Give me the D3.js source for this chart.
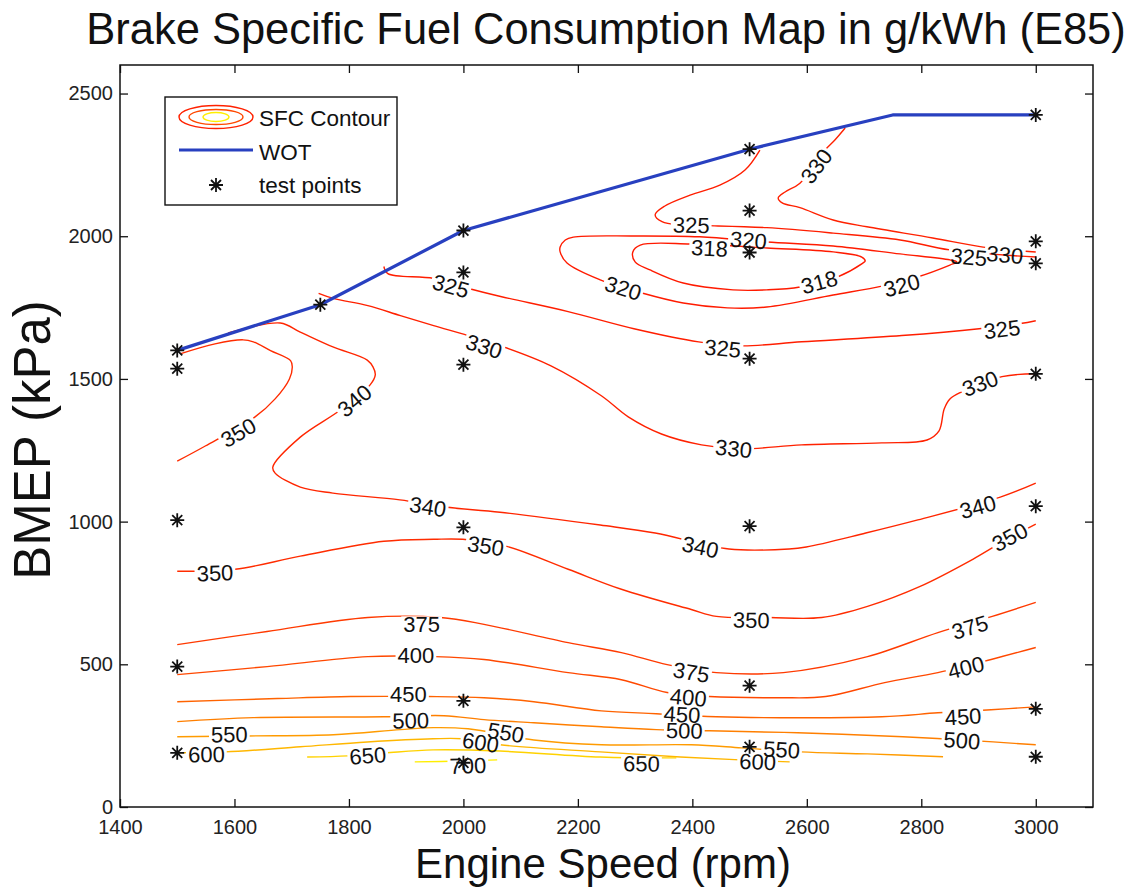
<!DOCTYPE html>
<html>
<head>
<meta charset="utf-8">
<script src="https://cdn.jsdelivr.net/npm/d3@7"></script>
<style>
  body { margin: 0; background: #fff; }
  svg text { font-family: "Liberation Sans", Arial, Helvetica, sans-serif; }
</style>
</head>
<body>
<svg id="chart" width="1128" height="890"></svg>
<script>
// ---- axis ticks ----
const speedTicks = [1400, 1600, 1800, 2000, 2200, 2400, 2600, 2800, 3000];
const bmepTicks = [0, 500, 1000, 1500, 2000, 2500];

// ---- wide-open-throttle curve (rpm, kPa) ----
const wotSpeed = [1500, 1750, 2000, 2500, 2750, 3000];
const wotBmep  = [1600, 1760, 2020, 2305, 2425, 2425];

// ---- measured test points (rpm, kPa) ----
const testSpeed = [1500, 1500, 1500, 1500, 1500, 1750, 2000, 2000, 2000, 2000, 2000, 2000,
                   2500, 2500, 2500, 2500, 2500, 2500, 2500, 3000, 3000, 3000, 3000, 3000, 3000, 3000];
const testBmep  = [1600, 1536, 1005, 492, 190, 1760, 2020, 1873, 1550, 980, 372, 155,
                   2305, 2090, 1943, 1571, 984, 425, 211, 2425, 1982, 1905, 1518, 1054, 344, 176];

// ---- SFC iso-lines, g/kWh (each a list of [rpm, kPa]) ----
const sfc318 = [[2296,1945],[2309,1969],[2396,1973],[2530,1959],[2646,1945],[2696,1927],[2702,1913],
  [2698,1906],[2653,1857],[2588,1822],[2530,1812],[2471,1812],[2384,1836],[2326,1882],[2300,1910]];
const sfc320 = [[2169,1962],[2178,1987],[2192,1997],[2296,2001],[2413,1998],[2530,1980],[2646,1966],
  [2763,1938],[2850,1917],[2862,1910],[2850,1899],[2793,1857],[2733,1826],[2646,1794],[2530,1752],
  [2461,1749],[2384,1766],[2312,1801],[2239,1847],[2181,1906],[2169,1945]];
const sfc325Upper = [[2518,2302],[2492,2232],[2448,2179],[2396,2144],[2352,2106],[2335,2075],[2347,2051],
  [2378,2039],[2427,2037],[2530,2030],[2646,2011],[2763,1987],[2850,1952],[3000,1927]];
const sfc325Lower = [[1861,1894],[1868,1869],[1948,1852],[2009,1817],[2065,1789],[2183,1736],[2298,1676],
  [2411,1630],[2486,1616],[2591,1630],[2766,1652],[2901,1676],[2973,1694],[3000,1704]];
const sfc330Upper = [[2667,2379],[2649,2337],[2632,2302],[2588,2186],[2562,2155],[2550,2134],[2557,2117],
  [2588,2100],[2646,2057],[2705,2033],[2820,1994],[2908,1962],[3000,1945]];
const sfc330Lower = [[1747,1800],[1773,1782],[1833,1757],[1890,1722],[1948,1687],[2008,1652],[2065,1616],
  [2153,1546],[2241,1441],[2288,1367],[2346,1307],[2416,1269],[2486,1255],[2591,1269],[2731,1276],
  [2810,1286],[2831,1318],[2840,1395],[2850,1430],[2871,1455],[2941,1508],[3000,1518]];
const sfc340 = [[1589,1661],[1680,1696],[1715,1664],[1772,1612],[1832,1566],[1842,1542],[1846,1514],
  [1837,1479],[1785,1391],[1715,1296],[1667,1191],[1671,1170],[1715,1121],[1772,1100],[1889,1076],
  [1968,1051],[2064,1033],[2239,988],[2335,960],[2464,904],[2569,904],[2599,911],[2703,960],
  [2794,1006],[2938,1086],[3000,1135]];
const sfc350Upper = [[1500,1212],[1549,1265],[1636,1367],[1671,1430],[1696,1500],[1701,1543],[1698,1564],
  [1663,1599],[1633,1630],[1615,1637],[1566,1623],[1505,1588]];
const sfc350Lower = [[1500,826],[1601,833],[1715,879],[1861,931],[1948,938],[1999,938],[2074,914],
  [2183,833],[2276,763],[2398,692],[2442,668],[2535,664],[2626,664],[2706,703],[2798,773],
  [2890,868],[2941,928],[3000,991]];
const sfc375 = [[1500,569],[1657,615],[1833,664],[1960,664],[2036,640],[2183,576],[2276,541],[2356,499],
  [2442,471],[2559,471],[2706,527],[2829,611],[2924,668],[3000,717]];
const sfc400 = [[1500,464],[1657,492],[1833,527],[1948,527],[2036,517],[2183,471],[2276,446],[2356,401],
  [2430,387],[2552,383],[2633,387],[2736,436],[2829,471],[2922,517],[3000,559]];
const sfc450 = [[1500,369],[1675,380],[1803,387],[1938,387],[2036,383],[2123,369],[2241,337],[2337,327],
  [2442,316],[2731,316],[2829,330],[2922,341],[3000,351]];
const sfc500 = [[1500,299],[1633,313],[1861,316],[1966,320],[2036,306],[2123,295],[2241,281],[2337,271],
  [2430,267],[2584,260],[2768,246],[2871,235],[3000,218]];
const sfc550 = [[1500,246],[1624,249],[1773,253],[1890,271],[1948,278],[2008,274],[2123,235],[2241,218],
  [2398,218],[2486,207],[2589,193],[2706,186],[2838,176]];
const sfc600 = [[1500,190],[1584,193],[1715,211],[1832,228],[1947,239],[1998,239],[2064,218],[2239,193],
  [2379,175],[2483,165],[2570,158]];
const sfc650 = [[1727,175],[1798,179],[1863,189],[1947,200],[2064,196],[2239,175],[2372,172]];
const sfc700 = [[1915,158],[1994,161],[2059,165]];

const contourLines = [
  { level: 318, points: sfc318, closed: true },
  { level: 320, points: sfc320, closed: true },
  { level: 325, points: sfc325Upper },
  { level: 325, points: sfc325Lower },
  { level: 330, points: sfc330Upper },
  { level: 330, points: sfc330Lower },
  { level: 340, points: sfc340 },
  { level: 350, points: sfc350Upper },
  { level: 350, points: sfc350Lower },
  { level: 375, points: sfc375 },
  { level: 400, points: sfc400 },
  { level: 450, points: sfc450 },
  { level: 500, points: sfc500 },
  { level: 550, points: sfc550 },
  { level: 600, points: sfc600 },
  { level: 650, points: sfc650 },
  { level: 700, points: sfc700 }
];

// inline labels: level, rpm, kPa
const labelLevel = [350, 340, 340, 340, 340, 350, 350, 350, 350, 375, 375, 375, 400, 400, 400,
  450, 450, 450, 500, 500, 500, 550, 550, 550, 600, 600, 600, 650, 650, 700,
  330, 330, 330, 325, 325, 325, 330, 330, 325, 325, 320, 320, 320, 318, 318];
const labelSpeed = [1607, 1810, 1938, 2414, 2899, 1566, 2039, 2503, 2955, 1927, 2398, 2885, 1917, 2393, 2878,
  1904, 2382, 2873, 1908, 2386, 2871, 1591, 2074, 2556, 1551, 2030, 2514, 1833, 2311, 2008,
  2036, 2472, 2903, 1978, 2453, 2941, 2617, 2946, 2398, 2883, 2498, 2279, 2766, 2430, 2622];
const labelBmep = [1311, 1423, 1051, 910, 1051, 819, 914, 654, 945, 640, 471, 629, 531, 383, 488,
  394, 323, 316, 302, 267, 232, 253, 260, 200, 183, 225, 158, 179, 151, 144,
  1613, 1255, 1483, 1824, 1606, 1673, 2245, 1934, 2038, 1926, 1985, 1817, 1827, 1957, 1838];

const levels = Array.from(new Set(contourLines.map(c => c.level))).sort((a, b) => a - b);

// ---- layout ----
const W = 1128, H = 890;
const plot = { left: 120, right: 1093, top: 65, bottom: 807 };
const x = d3.scaleLinear().domain([1400, 3100]).range([plot.left, plot.right]);
const y = d3.scaleLinear().domain([0, 2600]).range([plot.bottom, plot.top]);
// autumn colour map: red for the lowest consumption, yellow for the highest
const colour = d3.scaleLinear().domain([d3.min(levels), d3.max(levels)]).range(["#ff1a00", "#ffee00"]);

const svg = d3.select("#chart");
svg.append("rect").attr("width", W).attr("height", H).attr("fill", "#fff");

const defs = svg.append("defs");
const gLines = svg.append("g");
const gLabels = svg.append("g");
const gWot = svg.append("g");
const gPoints = svg.append("g");
const gAxes = svg.append("g");
const gLegend = svg.append("g");

// ---- iso-lines ----
const lineOpen = d3.line().x(d => x(d[0])).y(d => y(d[1])).curve(d3.curveCatmullRom.alpha(0.5));
const lineClosed = d3.line().x(d => x(d[0])).y(d => y(d[1])).curve(d3.curveCatmullRomClosed.alpha(0.5));

// direction of the nearest line segment at a label anchor
function labelAngle(level, px, py) {
  let best = Infinity, ang = 0;
  contourLines.filter(c => c.level === level).forEach(c => {
    const pts = c.points.map(p => [x(p[0]), y(p[1])]);
    if (c.closed) pts.push(pts[0]);
    for (let i = 0; i < pts.length - 1; i++) {
      const [x1, y1] = pts[i], [x2, y2] = pts[i + 1];
      const dx = x2 - x1, dy = y2 - y1;
      const len2 = dx * dx + dy * dy || 1;
      let t = ((px - x1) * dx + (py - y1) * dy) / len2;
      t = Math.max(0, Math.min(1, t));
      const d = (px - (x1 + t * dx)) ** 2 + (py - (y1 + t * dy)) ** 2;
      if (d < best) { best = d; ang = Math.atan2(dy, dx) * 180 / Math.PI; }
    }
  });
  if (ang > 90) ang -= 180;
  if (ang < -90) ang += 180;
  return ang;
}

const labels = labelLevel.map((lv, i) => {
  const px = x(labelSpeed[i]), py = y(labelBmep[i]);
  return { level: lv, px, py, angle: labelAngle(lv, px, py) };
});

const labelText = gLabels.selectAll("text").data(labels).join("text")
  .attr("x", d => d.px).attr("y", d => d.py)
  .attr("text-anchor", "middle").attr("dominant-baseline", "central")
  .attr("transform", d => `rotate(${d.angle},${d.px},${d.py})`)
  .attr("font-size", 22).attr("fill", "#111")
  .text(d => d.level);
labelText.each(function (d) { d.w = this.getComputedTextLength(); });

// a mask per level cuts the line where its own labels sit
levels.forEach(lv => {
  const m = defs.append("mask").attr("id", "gap-" + lv)
    .attr("maskUnits", "userSpaceOnUse").attr("x", 0).attr("y", 0).attr("width", W).attr("height", H);
  m.append("rect").attr("width", W).attr("height", H).attr("fill", "#fff");
  labels.filter(d => d.level === lv).forEach(d => {
    m.append("rect")
      .attr("x", d.px - d.w / 2 - 2).attr("y", d.py - 8).attr("width", d.w + 4).attr("height", 16)
      .attr("transform", `rotate(${d.angle},${d.px},${d.py})`).attr("fill", "#000");
  });
});

gLines.selectAll("path").data(contourLines).join("path")
  .attr("d", d => (d.closed ? lineClosed : lineOpen)(d.points))
  .attr("fill", "none")
  .attr("stroke", d => colour(d.level))
  .attr("stroke-width", 1.4)
  .attr("mask", d => `url(#gap-${d.level})`);

// ---- WOT ----
const wot = wotSpeed.map((s, i) => [s, wotBmep[i]]);
gWot.append("path")
  .attr("d", d3.line().x(d => x(d[0])).y(d => y(d[1]))(wot))
  .attr("fill", "none").attr("stroke", "#2840c0").attr("stroke-width", 3.2)
  .attr("stroke-linejoin", "round");

// ---- test points: '*' markers ----
const star = "M-7,0H7M0,-7V7M-5,-5L5,5M-5,5L5,-5";
gPoints.selectAll("path").data(testSpeed.map((s, i) => [s, testBmep[i]])).join("path")
  .attr("d", star)
  .attr("transform", d => `translate(${x(d[0])},${y(d[1])})`)
  .attr("fill", "none").attr("stroke", "#111").attr("stroke-width", 1.8);

// ---- axes ----
const tickFont = 20;
const ax = gAxes.append("g").attr("transform", `translate(0,${plot.bottom})`)
  .call(d3.axisBottom(x).tickValues(speedTicks).tickSizeInner(-8).tickSizeOuter(0).tickPadding(13).tickFormat(d3.format("d")));
const axTop = gAxes.append("g").attr("transform", `translate(0,${plot.top})`)
  .call(d3.axisTop(x).tickValues(speedTicks).tickSizeInner(-8).tickSizeOuter(0).tickFormat(""));
const ay = gAxes.append("g").attr("transform", `translate(${plot.left},0)`)
  .call(d3.axisLeft(y).tickValues(bmepTicks).tickSizeInner(-8).tickSizeOuter(0).tickPadding(7).tickFormat(d3.format("d")));
const ayRight = gAxes.append("g").attr("transform", `translate(${plot.right},0)`)
  .call(d3.axisRight(y).tickValues(bmepTicks).tickSizeInner(-8).tickSizeOuter(0).tickFormat(""));
[ax, axTop, ay, ayRight].forEach(g => {
  g.select(".domain").remove();
  g.selectAll(".tick line").attr("stroke", "#111").attr("stroke-width", 1.3);
  g.selectAll(".tick text").attr("font-size", tickFont).attr("fill", "#222")
    .attr("font-family", "Liberation Sans, Arial, sans-serif");
});
gAxes.append("rect")
  .attr("x", plot.left).attr("y", plot.top)
  .attr("width", plot.right - plot.left).attr("height", plot.bottom - plot.top)
  .attr("fill", "none").attr("stroke", "#111").attr("stroke-width", 1.5);

// ---- titles ----
svg.append("text").attr("x", 606).attr("y", 44).attr("text-anchor", "middle")
  .attr("font-size", 43.5).attr("fill", "#111")
  .text("Brake Specific Fuel Consumption Map in g/kWh (E85)");
svg.append("text").attr("x", 603).attr("y", 878).attr("text-anchor", "middle")
  .attr("font-size", 42).attr("fill", "#111")
  .text("Engine Speed (rpm)");
svg.append("text").attr("transform", "translate(50,440) rotate(-90)").attr("text-anchor", "middle")
  .attr("font-size", 51).attr("fill", "#111")
  .text("BMEP (kPa)");

// ---- legend ----
const lg = { x: 165, y: 97, w: 232, h: 108 };
gLegend.append("rect").attr("x", lg.x).attr("y", lg.y).attr("width", lg.w).attr("height", lg.h)
  .attr("fill", "#fff").attr("stroke", "#111").attr("stroke-width", 1.4);
const iconX = 216;
[[37, 11.5, 330], [27, 7.5, 400], [13, 4.5, 700]].forEach(([rx, ry, lv]) => {
  gLegend.append("ellipse").attr("cx", iconX).attr("cy", 117).attr("rx", rx).attr("ry", ry)
    .attr("fill", "none").attr("stroke", colour(lv)).attr("stroke-width", 1.4);
});
gLegend.append("line").attr("x1", 179).attr("x2", 253).attr("y1", 150).attr("y2", 150)
  .attr("stroke", "#2840c0").attr("stroke-width", 3.2);
gLegend.append("path").attr("d", star).attr("transform", "translate(216,185)")
  .attr("fill", "none").attr("stroke", "#111").attr("stroke-width", 1.8);
const legendNames = ["SFC Contour", "WOT", "test points"];
gLegend.selectAll("text.name").data(legendNames).join("text").attr("class", "name")
  .attr("x", 259).attr("y", (d, i) => 126 + i * 33.5)
  .attr("font-size", 22.5).attr("fill", "#111").text(d => d);
</script>
</body>
</html>
